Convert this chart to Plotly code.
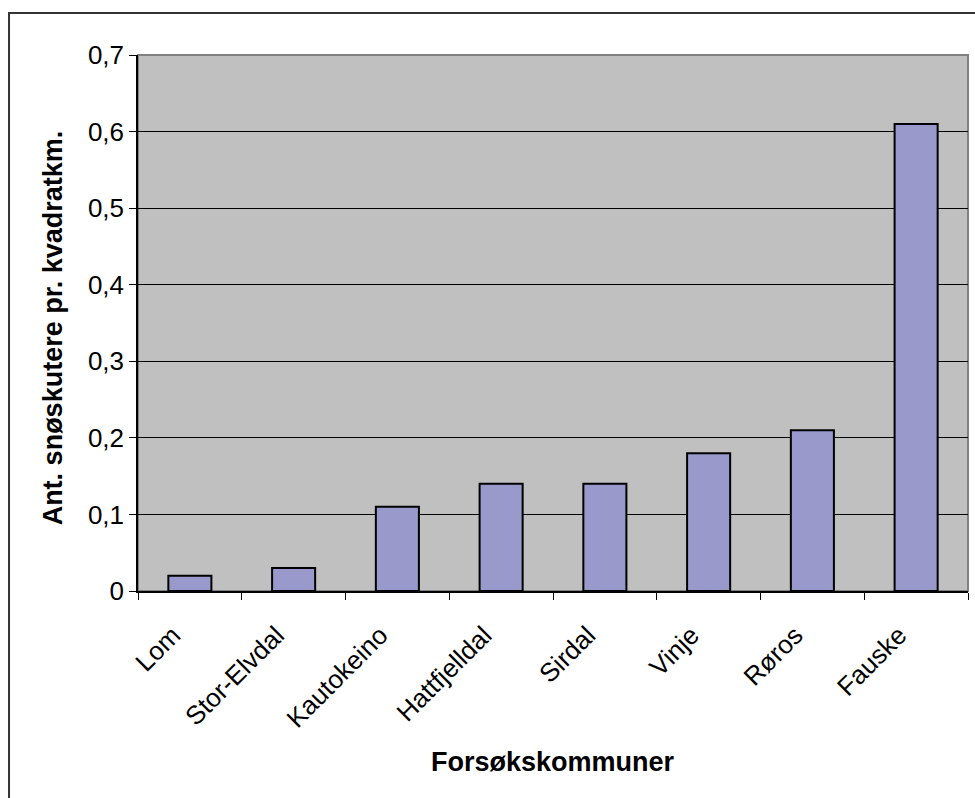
import plotly.graph_objects as go

categories = ["Lom", "Stor-Elvdal", "Kautokeino", "Hattfjelldal", "Sirdal", "Vinje", "Røros", "Fauske"]
values = [0.02, 0.03, 0.11, 0.14, 0.14, 0.18, 0.21, 0.61]
y_tickvals = [0, 0.1, 0.2, 0.3, 0.4, 0.5, 0.6, 0.7]
y_ticktext = ["0", "0,1", "0,2", "0,3", "0,4", "0,5", "0,6", "0,7"]

FONT = "Liberation Sans, Arial, sans-serif"

fig = go.Figure(go.Bar(
    x=categories, y=values,
    marker=dict(color="#9999CC", line=dict(color="black", width=2)),
))

fig.update_layout(
    width=975, height=798,
    margin=dict(l=138, r=7, t=55, b=207),
    paper_bgcolor="white", plot_bgcolor="#C0C0C0",
    bargap=0.585, showlegend=False,
    font=dict(family=FONT, size=26, color="black"),
    shapes=[
        dict(type="rect", xref="paper", yref="paper", x0=0, x1=1, y0=0, y1=1,
             line=dict(color="#808080", width=2), layer="below"),
        dict(type="rect", xref="paper", yref="paper", x0=-0.1554, x1=1.05, y0=-0.45, y1=1.0784,
             line=dict(color="#333333", width=2)),
    ],
    annotations=[
        dict(text="<b>Forsøkskommuner</b>", xref="paper", yref="paper",
             x=0.5, y=-0.319, xanchor="center", yanchor="middle", showarrow=False,
             font=dict(size=27, family=FONT)),
        dict(text="<b>Ant. snøskutere pr. kvadratkm.</b>", xref="paper", yref="paper",
             x=-0.1024, y=0.49, xanchor="center", yanchor="middle", showarrow=False,
             textangle=-90, font=dict(size=27, family=FONT)),
    ],
)
fig.update_xaxes(
    showline=True, linecolor="black", linewidth=1.5,
    ticks="outside", tickson="boundaries", ticklen=7, tickcolor="black",
    tickangle=-45, tickfont=dict(size=26, family=FONT),
    ticklabelstandoff=17, ticklabelshift=-17,
    showgrid=False,
)
fig.update_yaxes(
    range=[0, 0.7], tickvals=y_tickvals, ticktext=y_ticktext,
    showline=True, linecolor="black", linewidth=1.5,
    ticks="outside", ticklen=7, tickcolor="black",
    tickfont=dict(size=26, family=FONT),
    showgrid=True, gridcolor="black", gridwidth=1, zeroline=False,
)

fig.write_html("out.html")
